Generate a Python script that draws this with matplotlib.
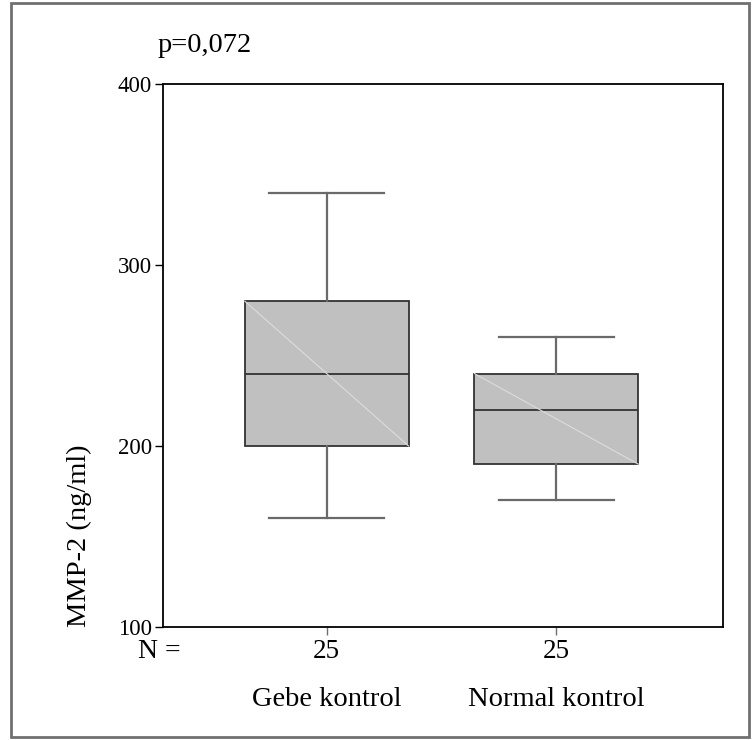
import matplotlib.pyplot as plt
from matplotlib.patches import Rectangle

plt.rcParams['font.family'] = ['Liberation Serif', 'DejaVu Serif']

groups = ['Gebe kontrol', 'Normal kontrol']
n_counts = [25, 25]
q1 = [200, 190]
median = [240, 220]
q3 = [280, 240]
whis_lo = [160, 170]
whis_hi = [340, 260]
p_text = 'p=0,072'
y_label = 'MMP-2 (ng/ml)'
y_ticks = [100, 200, 300, 400]

positions = [1, 2]
box_w = 0.713

fig = plt.figure(figsize=(7.52, 7.40), dpi=100)
ax = fig.add_axes([163/752, 1 - 627/740, 560/752, 543/740])

stats = []
for i in range(len(groups)):
    stats.append(dict(med=median[i], q1=q1[i], q3=q3[i],
                      whislo=whis_lo[i], whishi=whis_hi[i], fliers=[]))

ax.bxp(stats, positions=positions, widths=box_w, patch_artist=True,
       showfliers=False,
       boxprops=dict(facecolor='#c0c0c0', edgecolor='#333333', linewidth=1.3),
       medianprops=dict(color='#333333', linewidth=1.3),
       whiskerprops=dict(color='#6a6a6a', linewidth=1.6),
       capprops=dict(color='#6a6a6a', linewidth=1.6),
       capwidths=0.5)

# faint diagonal across each box
for i, pos in enumerate(positions):
    ax.plot([pos - box_w/2, pos + box_w/2], [q3[i], q1[i]],
            color='#dcdcdc', linewidth=0.8, zorder=3)

ax.set_xlim(0.287, 2.726)
ax.set_ylim(100, 400)
ax.set_yticks(y_ticks)
ax.set_yticklabels([str(v) for v in y_ticks], fontsize=16.5)
ax.set_xticks(positions)
ax.set_xticklabels([str(n) for n in n_counts], fontsize=19.5)
ax.tick_params(axis='y', direction='out', length=6, width=1, pad=2)
ax.tick_params(axis='x', direction='out', length=6, width=1, pad=3,
               color='#707070')
for s in ax.spines.values():
    s.set_linewidth(1.3)
    s.set_color('black')

for i, pos in enumerate(positions):
    ax.text(pos, -0.133, groups[i], transform=ax.get_xaxis_transform(),
            ha='center', va='center', fontsize=20.5)

fig.text(138/752, 1 - 652/740, 'N =', ha='left', va='center', fontsize=20)
fig.text(158/752, 1 - 45/740, p_text, ha='left', va='center', fontsize=20.5)
fig.text(79/752, 1 - 536/740, y_label, rotation=90, ha='center', va='center',
         fontsize=20.5)

fig.patches.append(Rectangle((11/752, 3/740), 738/752, 734/740,
                             transform=fig.transFigure, fill=False,
                             edgecolor='#707070', linewidth=2))

fig.savefig('out.png', dpi=100)
